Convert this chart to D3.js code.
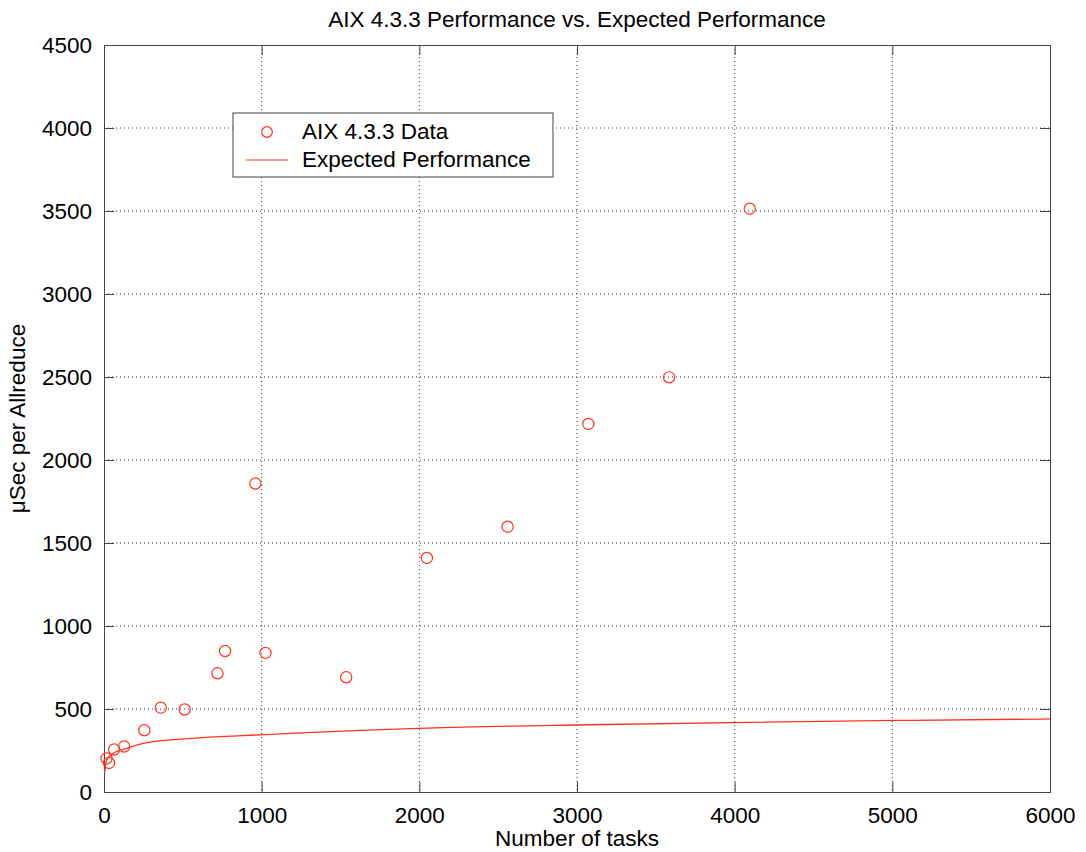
<!DOCTYPE html>
<html>
<head>
<meta charset="utf-8">
<script src="https://cdn.jsdelivr.net/npm/d3@7"></script>
<style>
  body { margin: 0; background: #fff; }
  #chart { width: 1086px; height: 852px; }
  text { font-family: "Liberation Sans", Arial, sans-serif; fill: #000; }
</style>
</head>
<body>
<div id="chart"></div>
<script>
// -----------------------------
// DATA
// -----------------------------
const taskCounts = [16, 32, 64, 128, 256, 360, 512, 720, 768, 960, 1024, 1536, 2048, 2560, 3072, 3584, 4096];
const measuredUs = [202, 175, 256, 274, 372, 508, 497, 715, 849, 1858, 838, 691, 1410, 1598, 2217, 2498, 3514];

const expectedTasks = [4, 16, 64, 128, 256, 512, 1024, 2048, 3072, 4096, 5120, 6000];
const expectedUs = [116, 192, 236, 258, 294, 320, 346, 385, 405, 420, 432, 440];

const xTicks = [0, 1000, 2000, 3000, 4000, 5000, 6000];
const yTicks = [0, 500, 1000, 1500, 2000, 2500, 3000, 3500, 4000, 4500];

const titleText = "AIX 4.3.3 Performance vs. Expected Performance";
const xLabel = "Number of tasks";
const yLabel = "\u03bcSec per Allreduce";
const legendNames = ["AIX 4.3.3 Data", "Expected Performance"];

// -----------------------------
// SVG SETUP
// -----------------------------
const width = 1086, height = 852;
const margin = { top: 45, right: 36, bottom: 60, left: 104 };
const plotWidth = width - margin.left - margin.right;
const plotHeight = height - margin.top - margin.bottom;
const red = "#ff3320";
const fontSize = "22.5px";

const svg = d3.select("#chart").append("svg")
    .attr("width", width)
    .attr("height", height);

const g = svg.append("g")
    .attr("transform", `translate(${margin.left},${margin.top})`);

const x = d3.scaleLinear().domain([0, 6000]).range([0, plotWidth]);
const y = d3.scaleLinear().domain([0, 4500]).range([plotHeight, 0]);

// -----------------------------
// GRID
// -----------------------------
g.append("g")
    .selectAll("line")
    .data(xTicks.slice(1, -1))
    .enter().append("line")
    .attr("x1", d => x(d)).attr("x2", d => x(d))
    .attr("y1", 0).attr("y2", plotHeight)
    .attr("stroke", "#333")
    .attr("stroke-dasharray", "1,3");

g.append("g")
    .selectAll("line")
    .data(yTicks.slice(1, -1))
    .enter().append("line")
    .attr("y1", d => y(d)).attr("y2", d => y(d))
    .attr("x1", 0).attr("x2", plotWidth)
    .attr("stroke", "#333")
    .attr("stroke-dasharray", "1,3");

// -----------------------------
// AXES (ticks inward, box all round)
// -----------------------------
const tickLen = 10;

g.append("g")
    .attr("transform", `translate(0,${plotHeight})`)
    .call(d3.axisBottom(x).tickValues(xTicks).tickSize(-tickLen).tickPadding(15).tickFormat(d3.format("d")));

g.append("g")
    .call(d3.axisLeft(y).tickValues(yTicks).tickSize(-tickLen).tickPadding(12).tickFormat(d3.format("d")));

g.append("g")
    .call(d3.axisTop(x).tickValues(xTicks).tickSize(-tickLen).tickFormat(""));

g.append("g")
    .attr("transform", `translate(${plotWidth},0)`)
    .call(d3.axisRight(y).tickValues(yTicks).tickSize(-tickLen).tickFormat(""));

g.selectAll(".domain").attr("stroke", "#444");
g.selectAll(".tick line").attr("stroke", "#444");
g.selectAll(".tick text")
    .style("font-size", fontSize)
    .style("font-family", "Liberation Sans, Arial, sans-serif")
    .attr("fill", "#000");

// -----------------------------
// EXPECTED LINE + DATA POINTS
// -----------------------------
const line = d3.line()
    .x((d, i) => x(expectedTasks[i]))
    .y(d => y(d))
    .curve(d3.curveMonotoneX);

g.append("path")
    .datum(expectedUs)
    .attr("fill", "none")
    .attr("stroke", red)
    .attr("stroke-width", 1.3)
    .attr("d", line);

g.append("g")
    .selectAll("circle")
    .data(measuredUs)
    .enter().append("circle")
    .attr("cx", (d, i) => x(taskCounts[i]))
    .attr("cy", d => y(d))
    .attr("r", 5.6)
    .attr("fill", "none")
    .attr("stroke", red)
    .attr("stroke-width", 1.2);

// -----------------------------
// LEGEND
// -----------------------------
const legend = svg.append("g").attr("transform", "translate(233,113)");

legend.append("rect")
    .attr("width", 320).attr("height", 64)
    .attr("fill", "#fff")
    .attr("stroke", "#444");

legend.append("circle")
    .attr("cx", 34).attr("cy", 19).attr("r", 5.3)
    .attr("fill", "none").attr("stroke", red).attr("stroke-width", 1.2);

legend.append("line")
    .attr("x1", 13).attr("x2", 55)
    .attr("y1", 47).attr("y2", 47)
    .attr("stroke", red).attr("stroke-width", 1.2);

legend.selectAll(".ltext")
    .data(legendNames)
    .enter().append("text")
    .attr("class", "ltext")
    .attr("x", 69)
    .attr("y", (d, i) => 26 + i * 28)
    .style("font-size", fontSize)
    .text(d => d);

// -----------------------------
// TITLES
// -----------------------------
svg.append("text")
    .attr("x", margin.left + plotWidth / 2)
    .attr("y", 27)
    .attr("text-anchor", "middle")
    .style("font-size", fontSize)
    .text(titleText);

svg.append("text")
    .attr("x", margin.left + plotWidth / 2)
    .attr("y", 846)
    .attr("text-anchor", "middle")
    .style("font-size", fontSize)
    .text(xLabel);

svg.append("text")
    .attr("transform", `translate(25,${margin.top + plotHeight / 2}) rotate(-90)`)
    .attr("text-anchor", "middle")
    .style("font-size", fontSize)
    .text(yLabel);
</script>
</body>
</html>
